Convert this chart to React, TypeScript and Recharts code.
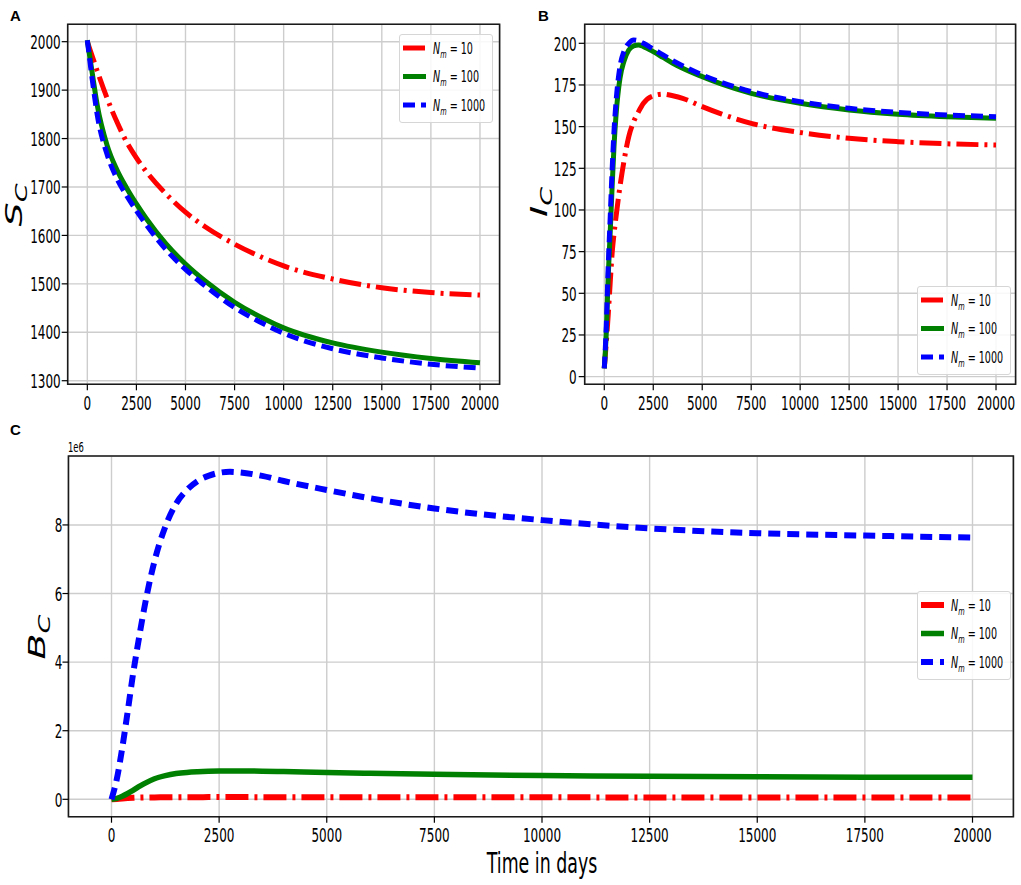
import { LineChart, Line, XAxis, YAxis, CartesianGrid, Legend, ReferenceArea } from 'recharts';

// ---- Panel A: S_C over time ----
const T_A = [0, 250, 500, 1000, 1500, 2000, 2500, 3000, 4000, 5000, 6000, 7500, 9000, 10000, 12500, 15000, 17500, 20000];
const SC_10 = [2000, 1970, 1940, 1884, 1835, 1793, 1760, 1732, 1686, 1648, 1618, 1582, 1553, 1537, 1510, 1492, 1482, 1477];
const SC_100 = [2003, 1935, 1870, 1787, 1736, 1698, 1665, 1635, 1583, 1541, 1506, 1462, 1428, 1409, 1378, 1359, 1346, 1337];
const SC_1000 = [2003, 1922, 1850, 1768, 1718, 1682, 1651, 1622, 1571, 1530, 1496, 1451, 1417, 1398, 1366, 1347, 1334, 1326];

// ---- Panel B: I_C over time ----
const T_B = [0, 100, 200, 300, 400, 500, 600, 800, 1000, 1250, 1500, 1750, 2000, 2500, 3000, 3500, 4000, 5000, 6000, 7500, 10000, 12500, 15000, 17500, 20000];
const IC_10 = [5, 20, 37, 56, 74, 86, 96, 114, 129, 144, 153, 159, 164, 168.5, 169.5, 168.5, 167, 162, 157.5, 152, 146.5, 143, 141, 139.7, 139];
const IC_100 = [5, 26, 60, 86, 114, 139, 157, 179, 189, 196, 198.5, 199, 198, 195, 191.5, 188, 185, 180, 175.5, 170, 164, 160, 157.5, 156, 155];
const IC_1000 = [5, 30, 66, 95, 124, 148, 165, 186, 195, 200, 202, 201.5, 200, 196.5, 193, 189.5, 186.5, 181, 176.5, 171, 165, 161, 158.5, 157, 156];

// ---- Panel C: B_C over time ----
const T_C = [0, 125, 250, 375, 500, 625, 750, 1000, 1250, 1500, 1750, 2000, 2250, 2500, 2750, 3000, 3500, 4000, 5000, 6000, 7500, 10000, 12500, 15000, 17500, 20000];
const BC_10 = [0, 12000, 25000, 35000, 43000, 48000, 52000, 56000, 59000, 61000, 62000, 63000, 64000, 64000, 64000, 64000, 63000, 62000, 61000, 60000, 59000, 57000, 56000, 55000, 55000, 55000];
const BC_100 = [0, 30000, 90000, 170000, 260000, 360000, 450000, 600000, 690000, 750000, 785000, 805000, 818000, 825000, 828000, 827000, 820000, 808000, 782000, 760000, 730000, 692000, 670000, 655000, 645000, 640000];
const BC_1000 = [0, 600000, 1500000, 2550000, 3650000, 4600000, 5500000, 6950000, 7950000, 8620000, 9020000, 9280000, 9430000, 9520000, 9550000, 9530000, 9430000, 9280000, 9020000, 8780000, 8480000, 8140000, 7900000, 7760000, 7690000, 7630000];

const X_TICKS = [0, 2500, 5000, 7500, 10000, 12500, 15000, 17500, 20000];
const Y_TICKS_A = [1300, 1400, 1500, 1600, 1700, 1800, 1900, 2000];
const Y_TICKS_B = [0, 25, 50, 75, 100, 125, 150, 175, 200];
const Y_TICKS_C = [0, 2000000, 4000000, 6000000, 8000000];
const LEGEND_N = ['10', '100', '1000'];

const rows = (t: number[], a: number[], b: number[], c: number[]) =>
  t.map((x, i) => ({ t: x, n10: a[i], n100: b[i], n1000: c[i] }));

const dataA = rows(T_A, SC_10, SC_100, SC_1000);
const dataB = rows(T_B, IC_10, IC_100, IC_1000);
const dataC = rows(T_C, BC_10, BC_100, BC_1000);

// the source figure is squeezed horizontally, so text is too
const SQ = 0.6;
const FONT = '"DejaVu Sans", Verdana, sans-serif';
const RED = '#ff0000';
const GREEN = '#008000';
const BLUE = '#0000ff';

function XTick(props: any) {
  const { x, y, payload } = props;
  return (
    <g transform={`translate(${x},${y})`}>
      <text transform={`scale(${SQ},1)`} textAnchor="middle" dy="0.76em" fontSize={20} fontFamily={FONT} fill="#000">
        {payload.value}
      </text>
    </g>
  );
}

function YTick(props: any) {
  const { x, y, payload, scale } = props;
  const v = scale ? payload.value / scale : payload.value;
  return (
    <g transform={`translate(${x},${y})`}>
      <text transform={`scale(${SQ},1)`} textAnchor="end" dy="0.36em" fontSize={20} fontFamily={FONT} fill="#000">
        {v}
      </text>
    </g>
  );
}

function RotLabel({ x, y, main, sub }: { x: number; y: number; main: string; sub: string }) {
  return (
    <g transform={`translate(${x},${y}) scale(${SQ},1) rotate(-90)`}>
      <text textAnchor="middle" fontFamily={FONT} fontStyle="italic" fontSize={38} fill="#000">
        {main}
        <tspan fontSize={27} dy={8}>{sub}</tspan>
      </text>
    </g>
  );
}

function LegendBox({ dashes, widths }: { dashes: string[]; widths: number[] }) {
  const colors = [RED, GREEN, BLUE];
  return (
    <div
      style={{
        width: 94,
        height: 89,
        boxSizing: 'border-box',
        background: 'rgba(255,255,255,0.85)',
        border: '1px solid #d6d6d6',
        borderRadius: 3,
      }}
    >
      <svg width={92} height={87} style={{ display: 'block' }}>
        {LEGEND_N.map((n, i) => {
          const cy = 13 + i * 28.5;
          return (
            <g key={n}>
              <line x1={3} x2={26} y1={cy} y2={cy} stroke={colors[i]} strokeWidth={widths[i]} strokeDasharray={dashes[i]} />
              <g transform={`translate(33,${cy}) scale(${SQ},1)`}>
                <text dy="0.35em" fontFamily={FONT} fontSize={16} fill="#000">
                  <tspan fontStyle="italic">N</tspan>
                  <tspan fontStyle="italic" fontSize={11} dy={4}>m</tspan>
                  <tspan dy={-4}>{' = ' + n}</tspan>
                </text>
              </g>
            </g>
          );
        })}
      </svg>
    </div>
  );
}

interface PanelProps {
  data: any[];
  left: number;
  top: number;
  width: number;
  height: number;
  margin: { top: number; right: number; left: number; bottom: number };
  yAxisWidth: number;
  xAxisHeight: number;
  xDomain: [number, number];
  yDomain: [number, number];
  yTicks: number[];
  yScale?: number;
  yTickMargin: number;
  xTickMargin: number;
  dashes: string[];
  widths: number[];
  legendPos: { left: number; top: number };
  yLabel: any;
  xLabel?: any;
}

function Panel(p: PanelProps) {
  return (
    <div style={{ position: 'absolute', left: p.left, top: p.top }}>
      <LineChart width={p.width} height={p.height} data={p.data} margin={p.margin}>
        <CartesianGrid stroke="#cdcdcd" strokeWidth={1.4} />
        <XAxis
          dataKey="t"
          type="number"
          domain={p.xDomain}
          ticks={X_TICKS}
          allowDataOverflow
          height={p.xAxisHeight}
          axisLine={false}
          tickSize={6}
          tickMargin={p.xTickMargin}
          tickLine={{ stroke: '#000', strokeWidth: 1.2 }}
          tick={(t: any) => <XTick {...t} />}
          label={p.xLabel}
        />
        <YAxis
          type="number"
          domain={p.yDomain}
          ticks={p.yTicks}
          allowDataOverflow
          width={p.yAxisWidth}
          axisLine={false}
          tickSize={6}
          tickMargin={p.yTickMargin}
          tickLine={{ stroke: '#000', strokeWidth: 1.2 }}
          tick={(t: any) => <YTick {...t} scale={p.yScale} />}
          label={p.yLabel}
        />
        <Line type="monotone" dataKey="n10" stroke={RED} strokeWidth={p.widths[0]} strokeDasharray={p.dashes[0]} dot={false} isAnimationActive={false} />
        <Line type="monotone" dataKey="n100" stroke={GREEN} strokeWidth={p.widths[1]} dot={false} isAnimationActive={false} />
        <Line type="monotone" dataKey="n1000" stroke={BLUE} strokeWidth={p.widths[2]} strokeDasharray={p.dashes[2]} dot={false} isAnimationActive={false} />
        <ReferenceArea
          x1={p.xDomain[0]}
          x2={p.xDomain[1]}
          y1={p.yDomain[0]}
          y2={p.yDomain[1]}
          fill="none"
          stroke="#1a1a1a"
          strokeWidth={1.6}
          ifOverflow="visible"
        />
        <Legend
          layout="vertical"
          align="center"
          verticalAlign="middle"
          wrapperStyle={{ left: p.legendPos.left, top: p.legendPos.top, width: 94, height: 89 }}
          content={() => <LegendBox dashes={p.dashes} widths={p.widths} />}
        />
      </LineChart>
    </div>
  );
}

const DASH_AB = ['22 6 3 6', '', '12 6'];
const WIDTH_AB = [5, 5, 5];
const DASH_C = ['23 6 3 6', '', '12 7'];
const WIDTH_C = [6, 5.5, 6];

export default function App() {
  return (
    <div style={{ position: 'absolute', left: 0, top: 0, width: 1021, height: 885, background: '#fff', overflow: 'hidden' }}>
      <Panel
        data={dataA}
        left={0}
        top={0}
        width={520}
        height={420}
        margin={{ top: 24.3, right: 20.4, left: 0, bottom: 0 }}
        yAxisWidth={67.7}
        xAxisHeight={35.7}
        xDomain={[-1000, 21000]}
        yDomain={[1292.6, 2035.9]}
        yTicks={Y_TICKS_A}
        yTickMargin={1}
        xTickMargin={4}
        dashes={DASH_AB}
        widths={WIDTH_AB}
        legendPos={{ left: 399, top: 34 }}
        yLabel={() => <RotLabel x={22} y={205} main="S" sub="C" />}
      />
      <Panel
        data={dataB}
        left={510}
        top={0}
        width={511}
        height={420}
        margin={{ top: 24.3, right: 5.4, left: 0, bottom: 0 }}
        yAxisWidth={74.7}
        xAxisHeight={35.7}
        xDomain={[-1000, 21000]}
        yDomain={[-4.6, 211.4]}
        yTicks={Y_TICKS_B}
        yTickMargin={2}
        xTickMargin={4}
        dashes={DASH_AB}
        widths={WIDTH_AB}
        legendPos={{ left: 406.7, top: 286 }}
        yLabel={() => <RotLabel x={37} y={202} main="I" sub="C" />}
      />
      <Panel
        data={dataC}
        left={0}
        top={420}
        width={1021}
        height={465}
        margin={{ top: 36, right: 7.6, left: 0, bottom: 0 }}
        yAxisWidth={68.45}
        xAxisHeight={68.3}
        xDomain={[-1000, 20950]}
        yDomain={[-507000, 10010000]}
        yTicks={Y_TICKS_C}
        yScale={1000000}
        yTickMargin={0}
        xTickMargin={4}
        dashes={DASH_C}
        widths={WIDTH_C}
        legendPos={{ left: 916.7, top: 171 }}
        yLabel={() => <RotLabel x={45} y={217} main="B" sub="C" />}
        xLabel={() => (
          <g transform={`translate(542,453) scale(${SQ},1)`}>
            <text textAnchor="middle" fontFamily={FONT} fontSize={29} fill="#000">Time in days</text>
          </g>
        )}
      />
      <svg width={1021} height={885} style={{ position: 'absolute', left: 0, top: 0, pointerEvents: 'none' }}>
        <g fontFamily='"Liberation Sans", Arial, sans-serif' fontWeight="bold" fontSize={15} fill="#000">
          <text x={10} y={21}>A</text>
          <text x={538} y={21}>B</text>
          <text x={10} y={435}>C</text>
        </g>
        <g transform={`translate(68,452) scale(${SQ},1)`}>
          <text fontFamily={FONT} fontSize={14} fill="#000">1e6</text>
        </g>
      </svg>
    </div>
  );
}
